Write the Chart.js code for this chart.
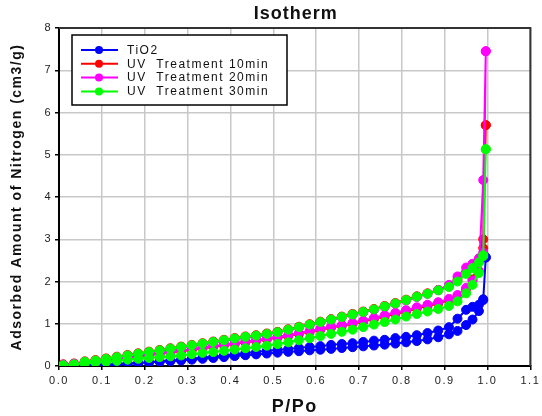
<!DOCTYPE html>
<html>
<head>
<meta charset="utf-8">
<script src="https://cdn.jsdelivr.net/npm/chart.js@4.4.1/dist/chart.umd.min.js"></script>
<style>
  html, body { margin:0; padding:0; background:#fff; }
  #wrap { width:542px; height:416px; }
</style>
</head>
<body>
<div id="wrap"><canvas id="chart" width="542" height="416"></canvas></div>
<script>
// ── Data ──────────────────────────────────────────────────────────────────────
const TITLE = "Isotherm";
const SERIES_NAMES = ["TiO2", "UV  Treatment 10min", "UV  Treatment 20min", "UV  Treatment 30min"];
const SERIES_COLORS = ["#0000ff", "#ff0000", "#ff00ff", "#00ff00"];

// relative pressure, adsorption branch (up) and desorption branch (down)
const adsP = [0.01,0.035,0.06,0.085,0.11,0.135,0.16,0.185,0.21,0.235,0.26,0.285,0.31,0.335,0.36,0.385,0.41,0.435,0.46,0.485,
              0.51,0.535,0.56,0.585,0.61,0.635,0.66,0.685,0.71,0.735,0.76,0.785,0.81,0.835,0.86,0.885,0.91,0.93,0.95,0.965,
              0.98,0.99,0.996];
const desP = [0.996,0.99,0.98,0.965,0.95,0.93,0.91,0.885,0.86,0.835,0.81,0.785,0.76,0.735,0.71,0.685,0.66,0.635,0.61,0.585,
              0.56,0.535,0.51,0.485,0.46,0.435,0.41,0.385,0.36,0.335,0.31,0.285,0.26,0.235,0.21,0.185,0.16,0.135,0.11,0.085,
              0.06];

const tio2Ads = [0.00,0.01,0.02,0.03,0.035,0.045,0.055,0.07,0.085,0.10,0.115,0.13,0.15,0.17,0.19,0.21,0.235,0.255,0.275,0.295,
                 0.315,0.335,0.35,0.37,0.385,0.405,0.425,0.445,0.465,0.485,0.505,0.53,0.56,0.59,0.63,0.68,0.75,0.83,0.97,1.10,
                 1.30,1.56,2.57];
const tio2Des = [2.57,1.58,1.45,1.40,1.33,1.12,0.92,0.84,0.78,0.73,0.69,0.66,0.62,0.60,0.57,0.54,0.52,0.50,0.47,0.45,
                 0.43,0.40,0.38,0.36,0.33,0.31,0.28,0.25,0.22,0.20,0.17,0.15,0.13,0.11,0.09,0.075,0.06,0.05,0.04,0.03,
                 0.02];

const uv10Ads = [0.04,0.06,0.08,0.11,0.14,0.17,0.20,0.23,0.26,0.29,0.32,0.35,0.38,0.42,0.45,0.49,0.52,0.56,0.59,0.63,
                 0.67,0.71,0.76,0.81,0.86,0.91,0.95,1.00,1.05,1.11,1.17,1.23,1.29,1.36,1.42,1.48,1.56,1.65,1.82,2.05,
                 2.48,3.00,5.70];
const uv10Des = [5.70,2.79,2.52,2.36,2.22,2.04,1.89,1.80,1.72,1.65,1.57,1.49,1.42,1.35,1.29,1.23,1.17,1.11,1.05,0.99,
                 0.93,0.87,0.81,0.77,0.73,0.70,0.66,0.62,0.58,0.54,0.50,0.46,0.42,0.38,0.34,0.30,0.26,0.22,0.18,0.14,
                 0.11];

const uv20Ads = [0.03,0.05,0.08,0.10,0.13,0.16,0.19,0.22,0.25,0.29,0.33,0.37,0.40,0.44,0.47,0.51,0.54,0.58,0.61,0.65,
                 0.69,0.73,0.78,0.83,0.88,0.93,0.97,1.02,1.07,1.14,1.20,1.26,1.32,1.39,1.45,1.51,1.59,1.68,1.85,2.02,
                 2.25,4.40,7.45];
const uv20Des = [7.45,2.68,2.55,2.42,2.33,2.12,1.92,1.80,1.71,1.63,1.55,1.47,1.40,1.33,1.27,1.21,1.15,1.09,1.03,0.97,
                 0.91,0.85,0.79,0.74,0.70,0.67,0.63,0.59,0.55,0.51,0.47,0.43,0.39,0.35,0.31,0.27,0.24,0.20,0.16,0.12,
                 0.09];

const uv30Ads = [0.02,0.04,0.06,0.08,0.10,0.12,0.15,0.17,0.19,0.21,0.23,0.25,0.28,0.31,0.33,0.36,0.39,0.42,0.45,0.48,
                 0.52,0.56,0.61,0.66,0.71,0.76,0.81,0.86,0.92,0.98,1.04,1.10,1.17,1.23,1.29,1.35,1.42,1.53,1.72,1.92,
                 2.20,2.62,5.13];
const uv30Des = [5.13,2.60,2.45,2.32,2.18,2.00,1.87,1.79,1.71,1.64,1.56,1.48,1.41,1.34,1.28,1.22,1.16,1.10,1.04,0.98,
                 0.92,0.86,0.80,0.76,0.72,0.69,0.65,0.61,0.57,0.53,0.49,0.45,0.41,0.37,0.33,0.29,0.25,0.21,0.17,0.13,
                 0.10];

const X_MIN = 0, X_MAX = 1.1, X_STEP = 0.1;
const Y_MIN = 0, Y_MAX = 8, Y_STEP = 1;

// ── Helpers ───────────────────────────────────────────────────────────────────
const FONT = "'Liberation Sans', Arial, sans-serif";

function loop(ads, des) {
  const up   = adsP.map((p, i) => ({ x: p, y: ads[i] }));
  const down = desP.map((p, i) => ({ x: p, y: des[i] }));
  return up.concat(down);
}

function ds(idx, points, order) {
  const c = SERIES_COLORS[idx];
  return {
    label: SERIES_NAMES[idx], data: points, showLine: true, order,
    borderColor: c, backgroundColor: c, borderWidth: 2,
    pointRadius: 4.5, pointBorderWidth: 1, pointBorderColor: c, pointBackgroundColor: c, tension: 0
  };
}

// title centred over plot, frame on top/right, legend box inside plot
const framePlugin = {
  id: "frameLegend",
  beforeDraw(chart) { chart.ctx.letterSpacing = "1.5px"; },
  afterDraw(chart) {
    const { ctx, chartArea: a } = chart;
    ctx.save();
    ctx.fillStyle = "#111";
    ctx.font = "bold 18px " + FONT;
    ctx.textAlign = "center"; ctx.textBaseline = "middle";
    ctx.letterSpacing = "1px";
    ctx.fillText(TITLE, (a.left + a.right) / 2 + 1, 14);

    ctx.strokeStyle = "#333"; ctx.lineWidth = 2;
    ctx.beginPath();
    ctx.moveTo(a.left, a.top); ctx.lineTo(a.right, a.top); ctx.lineTo(a.right, a.bottom);
    ctx.stroke();

    // legend
    const bx = a.left + 13, by = a.top + 7, bw = 215, bh = 70;
    ctx.fillStyle = "#fff";
    ctx.fillRect(bx, by, bw, bh);
    ctx.strokeStyle = "#000"; ctx.lineWidth = 1.5;
    ctx.strokeRect(bx, by, bw, bh);
    ctx.font = "12px " + FONT;
    ctx.textAlign = "left"; ctx.textBaseline = "middle";
    ctx.letterSpacing = "1.5px";
    chart.data.datasets.forEach((d, i) => {
      const y = by + 15 + i * 13.8;
      ctx.strokeStyle = d.borderColor; ctx.lineWidth = 2;
      ctx.beginPath(); ctx.moveTo(bx + 9, y); ctx.lineTo(bx + 46, y); ctx.stroke();
      ctx.fillStyle = d.borderColor;
      ctx.beginPath(); ctx.arc(bx + 27, y, 4, 0, Math.PI * 2); ctx.fill();
      ctx.fillStyle = "#111";
      ctx.fillText(d.label, bx + 55, y + 0.5);
    });
    ctx.restore();
  }
};

// ── Chart ─────────────────────────────────────────────────────────────────────
new Chart(document.getElementById("chart").getContext("2d"), {
  type: "scatter",
  data: {
    datasets: [
      ds(0, loop(tio2Ads, tio2Des), 3),
      ds(1, loop(uv10Ads, uv10Des), 2),
      ds(2, loop(uv20Ads, uv20Des), 1),
      ds(3, loop(uv30Ads, uv30Des), 0)
    ]
  },
  options: {
    responsive: false, animation: false,
    layout: { padding: { left: 0, right: 10, top: 28, bottom: 0 } },
    plugins: {
      legend: { display: false },
      tooltip: { enabled: false },
      title: { display: false }
    },
    scales: {
      x: {
        type: "linear", min: X_MIN, max: X_MAX,
        afterFit: s => { s.height = 50; },
        ticks: { stepSize: X_STEP, padding: 4, color: "#222", font: { family: FONT, size: 11 },
                 callback: v => Number(v).toFixed(1) },
        grid: { color: "#c8c8c8", lineWidth: 1.5, tickColor: "#000", tickLength: 4, tickWidth: 1.5 },
        border: { color: "#000", width: 2 },
        title: { display: true, text: "P/Po", color: "#111",
                 font: { family: FONT, size: 18, weight: "bold", lineHeight: 1 }, padding: { top: 0, bottom: 0 } }
      },
      y: {
        type: "linear", min: Y_MIN, max: Y_MAX,
        afterFit: s => { s.width = 59; },
        ticks: { stepSize: Y_STEP, padding: 3, color: "#222", font: { family: FONT, size: 11 } },
        grid: { color: "#c8c8c8", lineWidth: 1.5, tickColor: "#000", tickLength: 4, tickWidth: 1.5 },
        border: { color: "#000", width: 2 },
        title: { display: true, text: "Adsorbed Amount of Nitrogen (cm3/g)", color: "#111",
                 font: { family: FONT, size: 14, weight: "bold" }, padding: { top: 9, bottom: 0 } }
      }
    }
  },
  plugins: [framePlugin]
});
</script>
</body>
</html>
